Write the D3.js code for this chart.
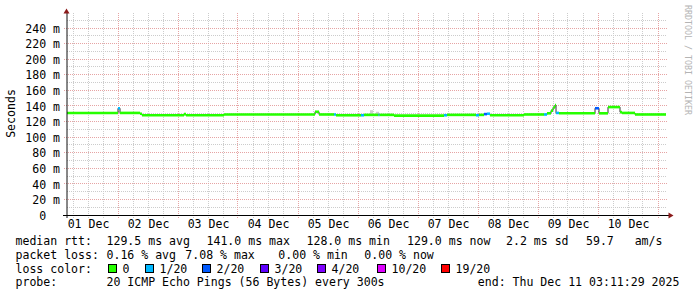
<!DOCTYPE html>
<html>
<head>
<meta charset="utf-8">
<script src="https://cdn.jsdelivr.net/npm/d3@7"></script>
<style>
  body { margin: 0; background: #fff; }
  svg text { font-family: "DejaVu Sans Mono", monospace; font-size: 11.55px; fill: #000; white-space: pre; }
</style>
</head>
<body>
<div id="chart"></div>
<script>
// median rtt (ms) and lost pings (out of 20), each held until the next time
var times = [
  "2025-12-01 03:36", "2025-12-02 00:00", "2025-12-02 00:48", "2025-12-02 08:48", "2025-12-02 09:36",
  "2025-12-03 02:24", "2025-12-03 03:12", "2025-12-03 18:24", "2025-12-05 06:48", "2025-12-05 08:24",
  "2025-12-05 14:24", "2025-12-05 15:12", "2025-12-06 01:12", "2025-12-06 02:24", "2025-12-06 08:12",
  "2025-12-06 08:36", "2025-12-06 14:24", "2025-12-07 10:24", "2025-12-07 11:36", "2025-12-07 23:12",
  "2025-12-08 00:24", "2025-12-08 02:24", "2025-12-08 03:36", "2025-12-08 04:48", "2025-12-08 18:24",
  "2025-12-09 02:24", "2025-12-09 03:36", "2025-12-09 05:12", "2025-12-09 06:00", "2025-12-09 06:48",
  "2025-12-09 07:12", "2025-12-09 08:24", "2025-12-09 22:48", "2025-12-10 00:24", "2025-12-10 04:00",
  "2025-12-10 08:48", "2025-12-10 09:36", "2025-12-10 14:48", "2025-12-11 03:12"
];
var medianRtt = [
  131, 137, 131, 130, 128,
  129.5, 128, 129, 132.5, 129,
  129, 128, 128, 128.5, 128.5,
  128.5, 127.5, 128, 128.5, 128,
  128.5, 129.5, 130, 128, 129,
  129, 130.5, 134, 138, 141,
  131, 130.5, 137, 130.5, 138.5,
  132, 131, 129, 129
];
var lossCount = [
  0, 1, 0, 0, 0,
  0, 0, 0, 0, 0,
  1, 0, 1, 0, 1,
  0, 0, 1, 0, 1,
  0, 2, 1, 0, 0,
  1, 0, 0, 0, 0,
  1, 0, 2, 0, 0,
  0, 0, 0, 0
];

// a few spots where the smoke shows above the median
var smokeStart = ["2025-12-06 04:48", "2025-12-06 07:12"];
var smokeEnd = ["2025-12-06 06:00", "2025-12-06 08:24"];
var smokeTop = [134.5, 132.5];
var smokeBottom = [128.5, 128.5];

// loss colour legend
var lossLabels = ["0", "1/20", "2/20", "3/20", "4/20", "10/20", "19/20"];
var lossLevels = [0, 1, 2, 3, 4, 10, 19];
var lossColors = ["#26ff00", "#00b8ff", "#0059ff", "#5e00ff", "#7e00ff", "#dd00ff", "#ff0000"];

var rttLegend = ["129.5 ms avg", "141.0 ms max", "128.0 ms min", "129.0 ms now", "2.2 ms sd", "59.7   am/s"];
var lossLegend = ["0.16 % avg", "7.08 % max", "0.00 % min", "0.00 % now"];
var probeText = "20 ICMP Echo Pings (56 Bytes) every 300s";
var endText = "end: Thu Dec 11 03:11:29 2025";

var svgWidth = 697;
var svgHeight = 297;

var svg = d3.select("#chart")
  .append("svg")
  .attr("width", svgWidth)
  .attr("height", svgHeight);

var parseTime = d3.utcParse("%Y-%m-%d %H:%M");
var start = parseTime("2025-12-01 03:36");
var end = parseTime("2025-12-11 03:36");

var x = d3.scaleUtc().domain([start, end]).range([67, 667]);
var y = d3.scaleLinear().domain([0, 240]).range([215, 28]);
var lossColor = d3.scaleThreshold().domain(lossLevels.slice(1)).range(lossColors);

var px = v => Math.floor(v) + 0.5;
var plotTop = 13;

// grid
var grid = svg.append("g").attr("stroke-dasharray", "1,1").attr("stroke-width", 1);

grid.selectAll(".hminor")
  .data(d3.range(10, 260, 20))
  .enter().append("line")
  .attr("x1", 67).attr("x2", 667)
  .attr("y1", d => px(y(d))).attr("y2", d => px(y(d)))
  .attr("stroke", "#cccccc");

var sixHours = d3.utcHour.every(6).range(start, end).filter(d => d.getUTCHours() !== 0);
grid.selectAll(".vminor")
  .data(sixHours)
  .enter().append("line")
  .attr("x1", d => px(x(d))).attr("x2", d => px(x(d)))
  .attr("y1", plotTop).attr("y2", 218)
  .attr("stroke", "#cccccc");

grid.selectAll(".hmajor")
  .data(d3.range(20, 241, 20))
  .enter().append("line")
  .attr("x1", 64).attr("x2", 667)
  .attr("y1", d => px(y(d))).attr("y2", d => px(y(d)))
  .attr("stroke", "#e6a4a4");

grid.selectAll(".vmajor")
  .data(d3.utcDay.range(start, end))
  .enter().append("line")
  .attr("x1", d => px(x(d))).attr("x2", d => px(x(d)))
  .attr("y1", plotTop).attr("y2", 218)
  .attr("stroke", "#e6a4a4");

// smoke
svg.append("g").selectAll("rect")
  .data(smokeStart.map((s, i) => ({ t0: parseTime(s), t1: parseTime(smokeEnd[i]), hi: smokeTop[i], lo: smokeBottom[i] })))
  .enter().append("rect")
  .attr("x", d => x(d.t0))
  .attr("width", d => x(d.t1) - x(d.t0))
  .attr("y", d => y(d.hi))
  .attr("height", d => y(d.lo) - y(d.hi))
  .attr("fill", "#cfcfcf");

// median line: dark steps underneath, loss-coloured levels on top
var points = times.map((t, i) => ({ t: parseTime(t), v: medianRtt[i], loss: lossCount[i] }));

svg.append("path")
  .datum(points)
  .attr("fill", "none")
  .attr("stroke", "#333")
  .attr("stroke-width", 1)
  .attr("d", d3.line().x(d => x(d.t)).y(d => y(d.v)).curve(d3.curveStepAfter));

svg.append("g").selectAll("line")
  .data(points.slice(0, -1).map((p, i) => ({ t0: p.t, t1: points[i + 1].t, v: p.v, loss: p.loss })))
  .enter().append("line")
  .attr("x1", d => x(d.t0)).attr("x2", d => x(d.t1))
  .attr("y1", d => y(d.v)).attr("y2", d => y(d.v))
  .attr("stroke", d => lossColor(d.loss))
  .attr("stroke-width", 2.6);

// axes
var leftAxis = d3.axisLeft(y)
  .tickValues(d3.range(0, 241, 20))
  .tickFormat(d => d === 0 ? "0" : d + " m")
  .tickSize(0)
  .tickPadding(7);

var yAxisG = svg.append("g")
  .attr("transform", "translate(67,0.5)")
  .call(leftAxis);
yAxisG.select(".domain").remove();
yAxisG.selectAll("text").attr("dx", d => d === 0 ? -13.9 : 0);

var noons = d3.utcDay.range(parseTime("2025-12-01 00:00"), parseTime("2025-12-11 00:00"))
  .map(d => d3.utcHour.offset(d, 12));
var bottomAxis = d3.axisBottom(x)
  .tickValues(noons)
  .tickFormat(d3.utcFormat("%d %b"))
  .tickSize(0)
  .tickPadding(4);

var xAxisG = svg.append("g")
  .attr("transform", "translate(0,215.5)")
  .call(bottomAxis);
xAxisG.select(".domain").remove();

svg.append("line")
  .attr("x1", 67).attr("x2", 67).attr("y1", plotTop).attr("y2", 218)
  .attr("stroke", "#111");
svg.append("line")
  .attr("x1", 63).attr("x2", 669).attr("y1", 215.5).attr("y2", 215.5)
  .attr("stroke", "#000");

svg.append("path")
  .attr("d", "M66.5,8.5L63.5,13.5L69.5,13.5Z")
  .attr("fill", "#8b1a1a");
svg.append("path")
  .attr("d", "M673.5,215.5L668.5,212.5L668.5,218.5Z")
  .attr("fill", "#8b1a1a");

// axis title and watermark
svg.append("text")
  .attr("transform", "translate(14.5,113.5) rotate(-90)")
  .attr("text-anchor", "middle")
  .text("Seconds");

svg.append("text")
  .attr("transform", "translate(684.5,5) rotate(90)")
  .style("font-size", "8.3px")
  .style("fill", "#b4b4b4")
  .text("RRDTOOL / TOBI OETIKER");

// legend
var rows = [245, 258.5, 272.5, 286];
var legend = svg.append("g");

legend.append("text").attr("x", 15.5).attr("y", rows[0]).text("median rtt:");
var rttX = [106.5, 206.5, 306.5, 407, 506, 586];
rttLegend.forEach(function(s, i) {
  legend.append("text").attr("x", rttX[i]).attr("y", rows[0]).text(s);
});

legend.append("text").attr("x", 15.5).attr("y", rows[1]).text("packet loss:");
var lossX = [106.5, 185.3, 278.3, 364.3];
lossLegend.forEach(function(s, i) {
  legend.append("text").attr("x", lossX[i]).attr("y", rows[1]).text(s);
});

legend.append("text").attr("x", 15.5).attr("y", rows[2]).text("loss color:");
var boxX = [108.5, 145.5, 202.5, 260.5, 317.5, 377.5, 441.5];
lossLabels.forEach(function(s, i) {
  legend.append("rect")
    .attr("x", boxX[i]).attr("y", rows[2] - 8)
    .attr("width", 8).attr("height", 8)
    .attr("fill", lossColors[i])
    .attr("stroke", "#000");
  legend.append("text").attr("x", boxX[i] + 14).attr("y", rows[2]).text(s);
});

legend.append("text").attr("x", 15.5).attr("y", rows[3]).text("probe:");
legend.append("text").attr("x", 106.5).attr("y", rows[3]).text(probeText);
legend.append("text").attr("x", 477.8).attr("y", rows[3]).text(endText);
</script>
</body>
</html>
